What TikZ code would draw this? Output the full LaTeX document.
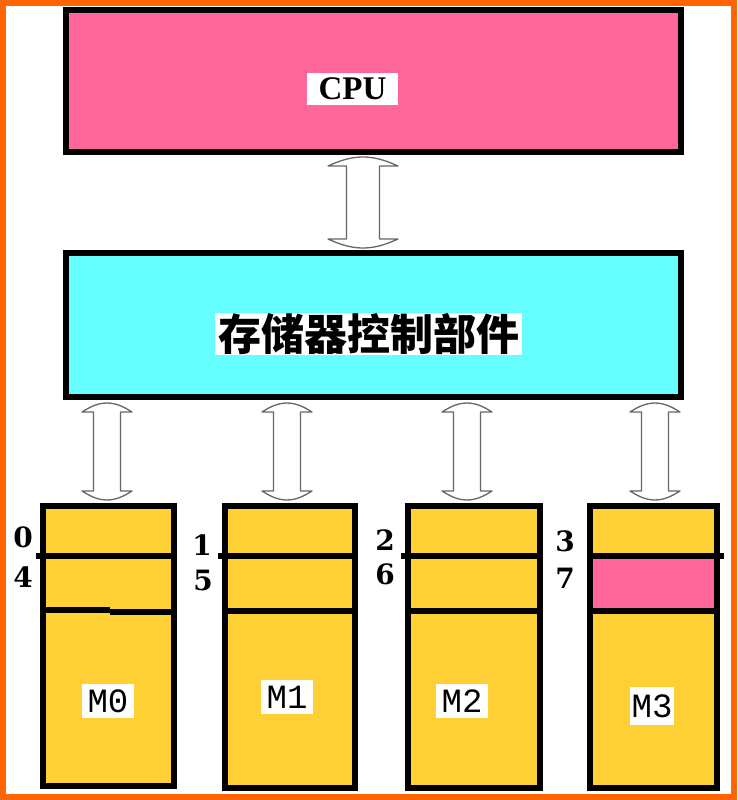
\documentclass[tikz,border=0pt]{standalone}
\usepackage{fontspec}
\setmainfont{Liberation Serif}
\newfontfamily\cjk{Noto Sans CJK SC}
\newfontfamily\monof{Liberation Mono}
\newfontfamily\digitf{DejaVu Serif}
\usetikzlibrary{calc}
\definecolor{pinkc}{HTML}{FF6699}
\definecolor{cyanc}{HTML}{66FFFF}
\definecolor{yelc}{HTML}{FFD035}
\definecolor{orangec}{HTML}{FF6600}
\newcommand\hollowarrow[4]{%
 \draw[hollowarr] let \p1=(#1), \p2=(#2) in
 (\x1,\y1) .. controls (\x1+0.45*#4,\y1) and (\x1+0.8*#4,\y1-6pt) .. (\x1+#4,\y1-9pt)
 -- (\x1+#3,\y1-9pt) -- (\x1+#3,\y2+9pt) -- (\x1+#4,\y2+9pt)
 .. controls (\x1+0.8*#4,\y2+6pt) and (\x1+0.45*#4,\y2) .. (\x1,\y2)
 .. controls (\x1-0.45*#4,\y2) and (\x1-0.8*#4,\y2+6pt) .. (\x1-#4,\y2+9pt)
 -- (\x1-#3,\y2+9pt) -- (\x1-#3,\y1-9pt) -- (\x1-#4,\y1-9pt)
 .. controls (\x1-0.8*#4,\y1-6pt) and (\x1-0.45*#4,\y1) .. cycle;}
\begin{document}
\begin{tikzpicture}[x=1pt,y=-1pt,
  box/.style={draw=black, line width=6pt, inner sep=0pt},
  modbox/.style={box, fill=yelc},
  divider/.style={line width=6pt, draw=black},
  hollowarr/.style={draw=black!60, line width=1.3pt, fill=white, line join=round},
  whitelabel/.style={fill=white, inner sep=0pt},
  digit/.style={font=\digitf\fontsize{28}{28}\selectfont\bfseries, inner sep=0pt},
  modlabel/.style={whitelabel, font=\monof\fontsize{34}{34}\selectfont, minimum height=34pt, minimum width=52pt}]
\useasboundingbox (0,0) rectangle (737,800);
\fill[white] (0,0) rectangle (737,800);
\draw[orangec, line width=6pt] (3,3) rectangle (734,797);

% main boxes
\node[box, fill=pinkc, minimum width=615pt, minimum height=142pt] (cpu) at (373.5,81) {};
\node[whitelabel, minimum width=91pt, minimum height=32pt, font=\fontsize{33}{33}\selectfont\bfseries] (cpulbl) at (352.5,89) {CPU};
\node[box, fill=cyanc, minimum width=615pt, minimum height=144pt] (ctrl) at (373.5,325) {};
\node[whitelabel, minimum width=307pt, minimum height=42pt, font=\cjk\fontsize{43}{43}\selectfont\bfseries] (ctrllbl) at (368.5,334) {存储器控制部件};

% memory modules
\node[modbox, minimum width=131pt, minimum height=280pt] (m0) at (108.5,646) {};
\node[modbox, minimum width=130pt, minimum height=282pt] (m1) at (290,647) {};
\node[modbox, minimum width=132pt, minimum height=282pt] (m2) at (474,647) {};
\node[modbox, minimum width=127pt, minimum height=282pt] (m3) at (653.5,647) {};
\fill[pinkc] ($(m3.north west)+(6,56)$) rectangle ($(m3.north east)+(-6,108)$);

% dividers
\draw[divider] ($(m0.north west)+(-4,53)$) -- ($(m0.north east)+(0,53)$);
\draw[divider] ($(m0.north west)+(0,107)$) -- ($(m0.north west)+(70,107)$);
\draw[divider] ($(m0.north west)+(70,109)$) -- ($(m0.north east)+(0,109)$);
\draw[divider] ($(m1.north west)+(-4,53)$) -- ($(m1.north east)+(0,53)$);
\draw[divider] ($(m1.north west)+(0,108)$) -- ($(m1.north east)+(0,108)$);
\draw[divider] ($(m2.north west)+(-4,53)$) -- ($(m2.north east)+(0,53)$);
\draw[divider] ($(m2.north west)+(0,108)$) -- ($(m2.north east)+(0,108)$);
\draw[divider] ($(m3.north west)+(0,53)$) -- ($(m3.north east)+(4,53)$);
\draw[divider] ($(m3.north west)+(0,108)$) -- ($(m3.north east)+(0,108)$);

% module labels
\node[modlabel] (m0lbl) at (108,701) {M0};
\node[modlabel] (m1lbl) at (287,697) {M1};
\node[modlabel] (m2lbl) at (462,701) {M2};
\node[modlabel, minimum width=44pt, minimum height=38pt] (m3lbl) at (652,706) {M3};

% address digits
\node[digit] (d0) at (23,537) {0};
\node[digit] (d4) at (23,577) {4};
\node[digit] (d1) at (202,545) {1};
\node[digit] (d5) at (203,580) {5};
\node[digit] (d2) at (385,540) {2};
\node[digit] (d6) at (385,574) {6};
\node[digit] (d3) at (565,541) {3};
\node[digit] (d7) at (565,578) {7};

% hollow double arrows
\path (cpu.south) ++(-10.5,2) coordinate (a0t);
\path (ctrl.north) ++(-10.5,-2) coordinate (a0b);
\hollowarrow{a0t}{a0b}{16.5pt}{35pt}
\path (ctrl.south) ++(-266.5,3) coordinate (a1t);
\path (m0.north) ++(-1.5,-3) coordinate (a1b);
\hollowarrow{a1t}{a1b}{13.5pt}{25pt}
\path (ctrl.south) ++(-86.5,3) coordinate (a2t);
\path (m1.north) ++(-3,-3) coordinate (a2b);
\hollowarrow{a2t}{a2b}{13.5pt}{25pt}
\path (ctrl.south) ++(93.5,3) coordinate (a3t);
\path (m2.north) ++(-7,-3) coordinate (a3b);
\hollowarrow{a3t}{a3b}{13.5pt}{25pt}
\path (ctrl.south) ++(281.5,3) coordinate (a4t);
\path (m3.north) ++(1.5,-3) coordinate (a4b);
\hollowarrow{a4t}{a4b}{13.5pt}{25pt}
\end{tikzpicture}
\end{document}
